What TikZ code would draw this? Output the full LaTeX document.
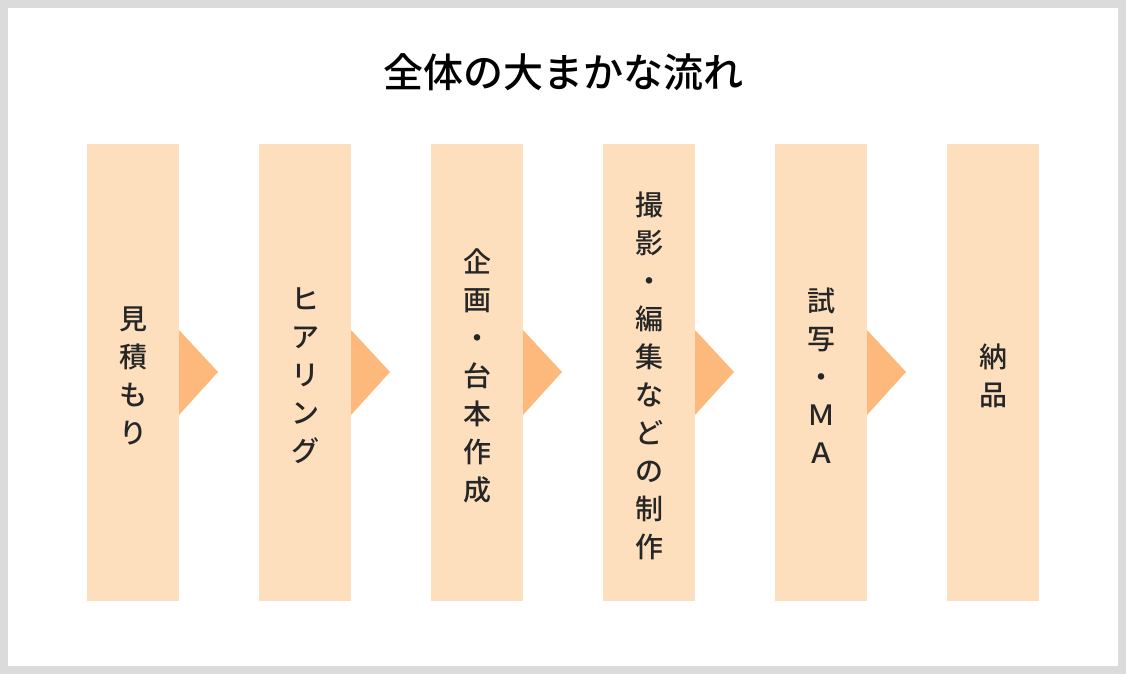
\documentclass[tikz,border=0pt]{standalone}
\usepackage{fontspec}
\newfontfamily\jp{Noto Sans CJK JP Bold}
\newfontfamily\jpm{Noto Sans CJK JP Medium}
\begin{document}
\begin{tikzpicture}[x=1pt,y=-1pt,
  col/.style={fill=boxc,draw=none,minimum width=92pt,minimum height=457pt,inner sep=0pt,anchor=north west},
  lbl/.style={font=\jpm\fontsize{28}{38}\selectfont,align=center,text=black!85},
  tri/.style={fill=arrc,draw=none}]
\definecolor{boxc}{HTML}{FDDFBE}
\definecolor{arrc}{HTML}{FDB97C}
\fill[black!14] (0,0) rectangle (1126,674);
\fill[white] (8,8) rectangle (1118,666);
\node[font=\jpm\fontsize{40}{44}\selectfont] (title) at (563,72) {全体の大まかな流れ};
\foreach \i/\t in {0/{見\\積\\も\\り},1/{ヒ\\ア\\リ\\ン\\グ},2/{企\\画\\・\\台\\本\\作\\成},3/{撮\\影\\・\\編\\集\\な\\ど\\の\\制\\作},4/{試\\写\\・\\Ｍ\\Ａ},5/{納\\品}}{
  \node[col] (c\i) at (87+172*\i,144) {};
  \node[lbl] (t\i) at (133+172*\i,376) {\t};
}
\foreach \i in {0,...,4}{
  \fill[tri] (179+172*\i,330) -- (218+172*\i,372) -- (179+172*\i,415) -- cycle;
}
\end{tikzpicture}
\end{document}
